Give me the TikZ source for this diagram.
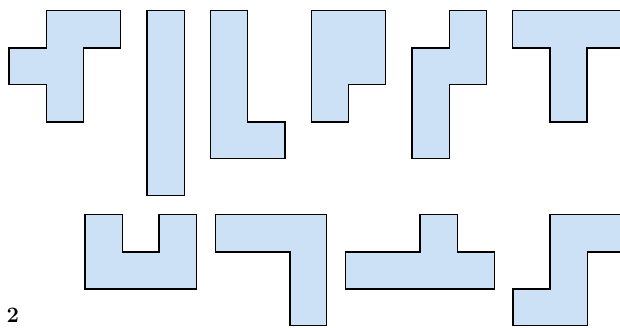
\documentclass[tikz,border=0pt]{standalone}
\usepackage{fontspec}
\begin{document}
\begin{tikzpicture}[x=1pt,y=-1pt,
  piece/.style={fill=pieceblue,draw=black,line width=1.4pt,line join=miter},
  lbltext/.style={anchor=base west,inner sep=0pt,font=\fontsize{22}{24}\selectfont\bfseries}]
\definecolor{pieceblue}{RGB}{204,224,246}
\useasboundingbox (0,0) rectangle (620,327);
\clip (0,0) rectangle (620,327);
% F
\draw[piece] (46.3,10.7)--(120.7,10.7)--(120.7,48)--(83.3,48)--(83.3,122)--(46.3,122)--(46.3,84.7)--(9,84.7)--(9,48)--(46.3,48)--cycle;
% I
\draw[piece] (147,10.7) rectangle (184.3,195.7);
% L
\draw[piece] (210.3,10.7)--(247.7,10.7)--(247.7,122)--(285,122)--(285,158.7)--(210.3,158.7)--cycle;
% P
\draw[piece] (311.3,10.7)--(385.7,10.7)--(385.7,84.7)--(348.3,84.7)--(348.3,122)--(311.3,122)--cycle;
% N
\draw[piece] (449.3,10.7)--(486.7,10.7)--(486.7,84.7)--(449.3,84.7)--(449.3,158.7)--(412,158.7)--(412,48)--(449.3,48)--cycle;
% T
\draw[piece] (512.7,10.7)--(624,10.7)--(624,48)--(587,48)--(587,122)--(550,122)--(550,48)--(512.7,48)--cycle;
% U
\draw[piece] (85,214.7)--(122.3,214.7)--(122.3,252)--(159,252)--(159,214.7)--(196.3,214.7)--(196.3,289)--(85,289)--cycle;
% V
\draw[piece] (215.7,214.7)--(326.7,214.7)--(326.7,325.5)--(290,325.5)--(290,252)--(215.7,252)--cycle;
% Y
\draw[piece] (420,214.7)--(457.3,214.7)--(457.3,252)--(494.3,252)--(494.3,289)--(345.7,289)--(345.7,252)--(420,252)--cycle;
% Z
\draw[piece] (550,214.7)--(624,214.7)--(624,252)--(587.3,252)--(587.3,325.5)--(513,325.5)--(513,289)--(550,289)--cycle;
\node[lbltext] (lbl) at (6.5,322) {2};
\end{tikzpicture}
\end{document}
